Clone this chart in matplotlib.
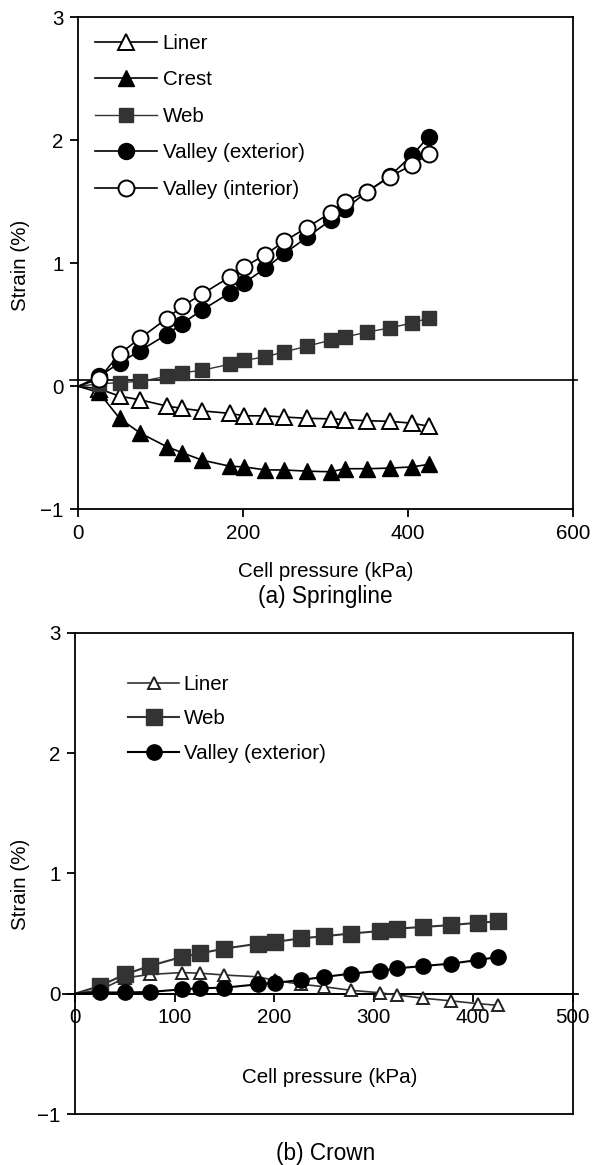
import matplotlib
matplotlib.use("Agg")
from matplotlib import pyplot as plt

plt.rcParams['font.family'] = ['Liberation Sans', 'DejaVu Sans']
FS = 14.8

# cell pressure steps (kPa), first point is the origin
pressure = [0, 25, 50, 75, 107, 126, 150, 184, 201, 227, 250, 277, 306, 323, 350, 378, 405, 425]

# (a) Springline strains (%)
a_liner = [0, -0.02, -0.08, -0.11, -0.16, -0.18, -0.20, -0.22, -0.24, -0.24, -0.25, -0.26,
           -0.265, -0.27, -0.28, -0.285, -0.30, -0.325]
a_crest = [0, -0.05, -0.26, -0.38, -0.49, -0.54, -0.60, -0.65, -0.655, -0.68, -0.68, -0.69,
           -0.695, -0.67, -0.67, -0.665, -0.655, -0.635]
a_web = [0, 0.02, 0.03, 0.04, 0.08, 0.11, 0.13, 0.18, 0.21, 0.24, 0.28, 0.325,
         0.375, 0.40, 0.44, 0.475, 0.515, 0.555]
a_valley_ext = [0, 0.08, 0.19, 0.29, 0.42, 0.51, 0.62, 0.76, 0.84, 0.96, 1.08, 1.21,
                1.35, 1.44, 1.58, 1.71, 1.88, 2.03]
a_valley_int = [0, 0.06, 0.265, 0.39, 0.55, 0.65, 0.75, 0.89, 0.97, 1.07, 1.18, 1.29,
                1.41, 1.50, 1.58, 1.705, 1.80, 1.89]

# (b) Crown strains (%)
b_liner = [0, 0.03, 0.13, 0.16, 0.175, 0.17, 0.155, 0.14, 0.11, 0.078, 0.058, 0.028,
           0.008, -0.011, -0.038, -0.06, -0.083, -0.097]
b_web = [0, 0.064, 0.16, 0.23, 0.305, 0.335, 0.375, 0.415, 0.43, 0.46, 0.477, 0.50,
         0.52, 0.54, 0.555, 0.57, 0.59, 0.60]
b_valley_ext = [0, 0.01, 0.01, 0.014, 0.036, 0.045, 0.05, 0.078, 0.09, 0.114, 0.139, 0.166,
                0.19, 0.21, 0.23, 0.25, 0.28, 0.305]

W, H = 593, 1165
fig = plt.figure(figsize=(W / 100, H / 100), dpi=100)


def box(l, t, r, b):
    return [l / W, 1 - b / H, (r - l) / W, (b - t) / H]


def style_axes(ax):
    for s in ax.spines.values():
        s.set_linewidth(1.3)
    ax.tick_params(direction='out', length=6, width=1.3, labelsize=FS, pad=4.5)


mk = dict(markevery=slice(1, None), clip_on=False, zorder=3)

# ---------- (a) Springline ----------
ax1 = fig.add_axes(box(78.3, 17.3, 573, 509.3))
ax1.plot(pressure, a_liner, color='black', lw=1.2, marker='^', ms=11, mfc='white',
         mec='black', mew=1.4, label='Liner', **mk)
ax1.plot(pressure, a_crest, color='black', lw=1.2, marker='^', ms=11, mfc='black',
         mec='black', label='Crest', **mk)
ax1.plot(pressure, a_web, color='#333333', lw=1.0, marker='s', ms=10.5, mfc='#333333',
         mec='#333333', label='Web', **mk)
ax1.plot(pressure, a_valley_ext, color='black', lw=1.2, marker='o', ms=11.5, mfc='black',
         mec='black', label='Valley (exterior)', **mk)
ax1.plot(pressure, a_valley_int, color='black', lw=1.2, marker='o', ms=11.5, mfc='white',
         mec='black', mew=1.4, label='Valley (interior)', **mk)
ax1.plot([-10, 605], [0.05, 0.05], color='black', lw=1.2, clip_on=False, zorder=2)
ax1.set_xlim(0, 600)
ax1.set_ylim(-1, 3)
ax1.set_xticks([0, 200, 400, 600])
ax1.set_yticks([-1, 0, 1, 2, 3])
ax1.set_yticklabels(['\u22121', '0', '1', '2', '3'])
style_axes(ax1)
ax1.legend(loc='upper left', bbox_to_anchor=(95 / W, 1 - 34 / H),
           bbox_transform=fig.transFigure, frameon=False, fontsize=FS,
           handlelength=3.0, handletextpad=0.3, labelspacing=0.85,
           borderpad=0, borderaxespad=0)

fig.text(20.7 / W, 1 - 265 / H, 'Strain (%)', rotation=90, ha='center', va='center', fontsize=FS)
fig.text(325.7 / W, 1 - 571.7 / H, 'Cell pressure (kPa)', ha='center', va='center', fontsize=FS)
fig.text(325.8 / W, 1 - 597 / H, '(a) Springline', ha='center', va='center', fontsize=16.3)

# ---------- (b) Crown ----------
ax2 = fig.add_axes(box(75, 632.7, 572.7, 1114))
ax2.plot(pressure, b_liner, color='#333333', lw=1.2, marker='^', ms=9, mfc='white',
         mec='#222222', mew=1.4, label='Liner', **mk)
ax2.plot(pressure, b_web, color='#333333', lw=1.5, marker='s', ms=11, mfc='#333333',
         mec='#333333', label='Web', **mk)
ax2.plot(pressure, b_valley_ext, color='black', lw=1.5, marker='o', ms=11, mfc='black',
         mec='black', label='Valley (exterior)', **mk)
ax2.set_xlim(0, 500)
ax2.set_ylim(-1, 3)
ax2.set_xticks([0, 100, 200, 300, 400, 500])
ax2.set_yticks([-1, 0, 1, 2, 3])
ax2.set_yticklabels(['\u22121', '0', '1', '2', '3'])
ax2.spines['bottom'].set_position(('data', 0))
ax2.plot([0, 1], [0, 0], transform=ax2.transAxes, color='black', lw=1.3, clip_on=False)
ax2.plot([-12, 505], [0, 0], color='black', lw=1.3, clip_on=False, zorder=2)
style_axes(ax2)
ax2.legend(loc='upper left', bbox_to_anchor=(128 / W, 1 - 675 / H),
           bbox_transform=fig.transFigure, frameon=False, fontsize=FS,
           handlelength=2.5, handletextpad=0.2, labelspacing=0.75,
           borderpad=0, borderaxespad=0)

fig.text(20.7 / W, 1 - 884 / H, 'Strain (%)', rotation=90, ha='center', va='center', fontsize=FS)
fig.text(330 / W, 1 - 1077.3 / H, 'Cell pressure (kPa)', ha='center', va='center', fontsize=FS)
fig.text(326 / W, 1 - 1153.3 / H, '(b) Crown', ha='center', va='center', fontsize=16.3)

fig.savefig('out.png', dpi=100)
